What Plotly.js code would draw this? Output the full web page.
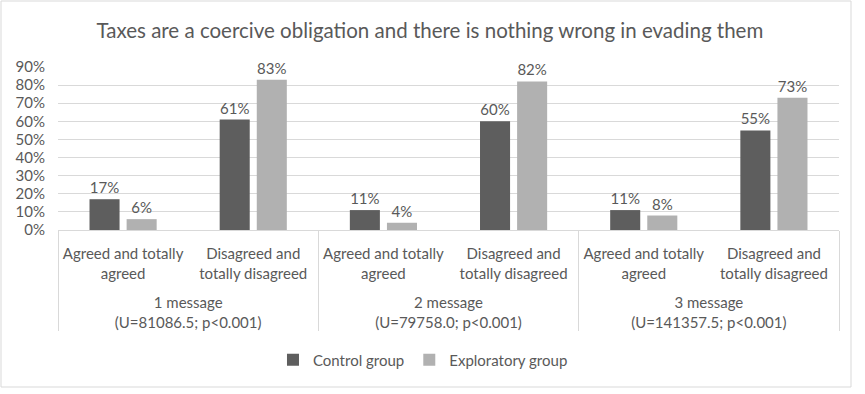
<!DOCTYPE html>
<html>
<head>
<meta charset="utf-8">
<script src="https://cdn.plot.ly/plotly-3.0.1.min.js"></script>
<style>html,body{margin:0;padding:0;background:#fff;}#chart{width:865px;height:394px;}</style>
</head>
<body>
<div id="chart"></div>
<script>
var groups = ["1 message<br>(U=81086.5; p<0.001)", "2 message<br>(U=79758.0; p<0.001)", "3 message<br>(U=141357.5; p<0.001)"];
var answers = ["Agreed and totally<br>agreed", "Disagreed and<br>totally disagreed"];
var controlGroup = [0.17, 0.61, 0.11, 0.60, 0.11, 0.55];
var exploratoryGroup = [0.06, 0.83, 0.04, 0.82, 0.08, 0.73];
var seriesNames = ["Control group", "Exploratory group"];
var yTicks = [0, 0.1, 0.2, 0.3, 0.4, 0.5, 0.6, 0.7, 0.8, 0.9];

var outer = [], inner = [];
groups.forEach(function (g) { answers.forEach(function (a) { outer.push(g); inner.push(a + "<br>\u00a0"); }); });

var font = "Lato, 'Open Sans', sans-serif";
var textCol = "#595959";

function mk(name, vals, color) {
  return {
    type: "bar", name: name, x: [outer, inner], y: vals,
    marker: { color: color },
    texttemplate: "%{y:.0%}", textposition: "outside", cliponaxis: false,
    textfont: { family: font, size: 15, color: textCol },
    hoverinfo: "skip"
  };
}

var data = [mk(seriesNames[0], controlGroup, "#5e5e5e"), mk(seriesNames[1], exploratoryGroup, "#b1b1b1")];

var layout = {
  width: 865, height: 394,
  margin: { l: 58, r: 26, t: 67, b: 164 },
  paper_bgcolor: "#fff", plot_bgcolor: "#fff",
  font: { family: font, color: textCol, size: 15 },
  title: { text: "Taxes are a coercive obligation and there is nothing wrong in evading them",
           font: { family: font, size: 20.5, color: textCol },
           x: 0.497, xref: "container", xanchor: "center", y: 0.921, yref: "container", yanchor: "middle" },
  barmode: "group", bargap: 0.43, bargroupgap: 0.19,
  xaxis: {
    type: "multicategory", showline: true, linecolor: "#d9d9d9", linewidth: 1,
    showdividers: true, dividercolor: "#d9d9d9", dividerwidth: 1,
    tickfont: { family: font, size: 15, color: textCol },
    ticks: "", ticklabelstandoff: 10, automargin: false, fixedrange: true
  },
  yaxis: {
    range: [0, 0.9], tickvals: yTicks, tickformat: ".0%",
    showgrid: true, gridcolor: "#d9d9d9", gridwidth: 1, zeroline: false, showline: false,
    tickfont: { family: font, size: 15, color: textCol },
    ticks: "", ticklabelstandoff: 12, automargin: false, fixedrange: true
  },
  showlegend: true,
  legend: { orientation: "h", xref: "container", x: 0.489, xanchor: "center", yref: "container", y: 1 - 360 / 394, yanchor: "middle",
            font: { family: font, size: 15, color: textCol }, itemwidth: 30, traceorder: "normal" },
  shapes: [{ type: "rect", xref: "paper", yref: "paper", x0: (1 - 58) / 781, x1: (851 - 58) / 781, y0: (230 - 387) / 163, y1: (230 - 1) / 163,
             line: { color: "#d9d9d9", width: 1 }, fillcolor: "rgba(0,0,0,0)", layer: "below" }]
};

Plotly.newPlot("chart", data, layout, { displayModeBar: false, staticPlot: true });
</script>
</body>
</html>
